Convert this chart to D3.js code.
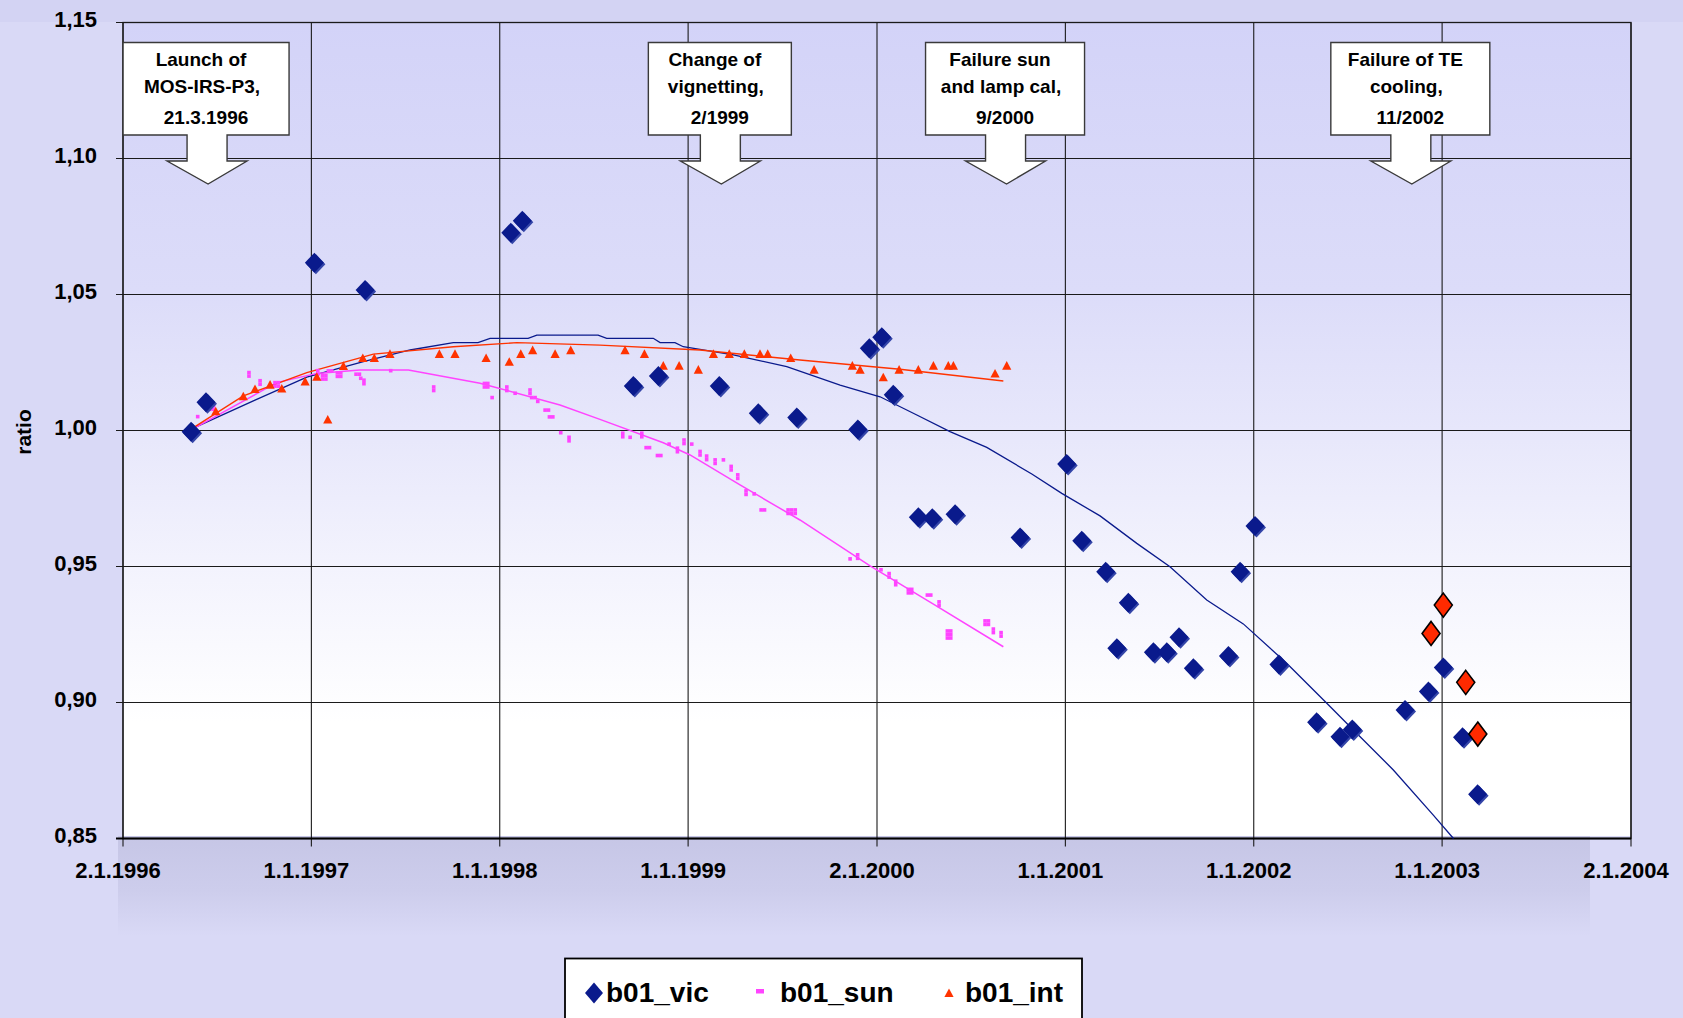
<!DOCTYPE html>
<html>
<head>
<meta charset="utf-8">
<script src="https://cdn.jsdelivr.net/npm/d3@7/dist/d3.min.js"></script>
<style>
  html, body { margin: 0; padding: 0; background: #d9d9f6; }
  svg { display: block; font-family: Arial, "Liberation Sans", sans-serif; }
</style>
</head>
<body>
<svg id="chart" width="1683" height="1018"></svg>
<script>
// --- DATA ---
const xTickLabels = ["2.1.1996", "1.1.1997", "1.1.1998", "1.1.1999", "2.1.2000", "1.1.2001", "1.1.2002", "1.1.2003", "2.1.2004"];
const yTicks = [0.85, 0.90, 0.95, 1.00, 1.05, 1.10, 1.15];

// b01_vic measurements (decimal year, ratio)
const vicYears = [1996.364, 1996.443, 1997.018, 1997.287, 1998.060, 1998.121, 1998.710, 1998.843, 1999.166, 1999.373,
  1999.577, 1999.901, 1999.962, 2000.028, 2000.089, 2000.222, 2000.296, 2000.417, 2000.762, 2001.009,
  2001.089, 2001.216, 2001.275, 2001.336, 2001.469, 2001.540, 2001.605, 2001.681, 2001.867, 2001.929,
  2002.008, 2002.135, 2002.335, 2002.459, 2002.524, 2002.804, 2002.928, 2003.007, 2003.109, 2003.189];
const vicValues = [0.9995, 1.0104, 1.0617, 1.0517, 1.0727, 1.0771, 1.0164, 1.0200, 1.0164, 1.0063,
  1.0048, 1.0004, 1.0302, 1.0343, 1.0131, 0.9681, 0.9677, 0.9692, 0.9607, 0.9877,
  0.9595, 0.9481, 0.9199, 0.9367, 0.9185, 0.9185, 0.9240, 0.9126, 0.9171, 0.9481,
  0.9649, 0.9140, 0.8927, 0.8874, 0.8901, 0.8972, 0.9040, 0.9129, 0.8872, 0.8663];

// b01_vic after TE cooling failure (red diamonds)
const vicLateYears = [2002.942, 2003.007, 2003.126, 2003.190];
const vicLateValues = [0.9254, 0.9358, 0.9074, 0.8884];

// b01_vic trend
const vicFitYears = [1996.364, 1996.703, 1996.978, 1997.278, 1997.526, 1997.755, 1997.886, 1997.950, 1998.152, 1998.198,
  1998.523, 1998.569, 1998.816, 1998.852, 1998.931, 1998.975, 1999.241, 1999.524, 1999.807, 2000.019,
  2000.214, 2000.390, 2000.585, 2000.824, 2000.983, 2001.186, 2001.381, 2001.557, 2001.752, 2001.946,
  2002.176, 2002.389, 2002.530, 2002.742, 2002.954, 2003.061];
const vicFitValues = [1.0005, 1.0112, 1.0196, 1.0253, 1.0296, 1.0323, 1.0323, 1.0339, 1.0339, 1.0351,
  1.0351, 1.0339, 1.0339, 1.0323, 1.0323, 1.0308, 1.0278, 1.0235, 1.0167, 1.0124,
  1.0057, 0.9996, 0.9938, 0.9840, 0.9769, 0.9686, 0.9585, 0.9499, 0.9377, 0.9289,
  0.9144, 0.8997, 0.8899, 0.8752, 0.8586, 0.8500];

// b01_sun measurements
const sunYears = [1996.399,
  1996.464, 1996.483, 1996.464, 1996.483,
  1996.671, 1996.671, 1996.730, 1996.730,
  1996.809, 1996.827, 1996.809, 1996.827,
  1997.036, 1997.036,
  1997.061, 1997.079, 1997.061, 1997.079,
  1997.092, 1997.110,
  1997.140, 1997.158, 1997.140, 1997.158,
  1997.239, 1997.257, 1997.264, 1997.281, 1997.281,
  1997.423, 1997.651, 1997.651,
  1997.920, 1997.938, 1997.920, 1997.938,
  1997.961, 1998.039, 1998.039, 1998.083, 1998.162, 1998.162,
  1998.171, 1998.189, 1998.203, 1998.242, 1998.260, 1998.265, 1998.283,
  1998.325, 1998.369, 1998.369, 1998.654, 1998.654, 1998.693,
  1998.755, 1998.755, 1998.778, 1998.796, 1998.838, 1998.856,
  1998.900, 1998.944, 1998.944, 1998.979, 1998.979, 1999.020,
  1999.064, 1999.064, 1999.099, 1999.099, 1999.144, 1999.144, 1999.188,
  1999.229, 1999.229, 1999.264, 1999.264, 1999.308, 1999.308, 1999.351,
  1999.388, 1999.406,
  1999.531, 1999.550, 1999.569, 1999.531, 1999.550, 1999.569,
  1999.860, 1999.900, 1999.900, 2000.024, 2000.067, 2000.067, 2000.102, 2000.102,
  2000.169, 2000.187, 2000.169, 2000.187,
  2000.270, 2000.288, 2000.332, 2000.332,
  2000.376, 2000.394, 2000.376, 2000.394, 2000.376, 2000.394,
  2000.576, 2000.594, 2000.576, 2000.594,
  2000.620, 2000.620, 2000.661, 2000.661];
const sunValues = [1.0051,
  1.0091, 1.0091, 1.0078, 1.0078,
  1.0213, 1.0200, 1.0183, 1.0170,
  1.0176, 1.0176, 1.0163, 1.0163,
  1.0220, 1.0207,
  1.0202, 1.0202, 1.0189, 1.0189,
  1.0219, 1.0219,
  1.0212, 1.0212, 1.0199, 1.0199,
  1.0207, 1.0207, 1.0192, 1.0185, 1.0172,
  1.0220, 1.0160, 1.0147,
  1.0173, 1.0173, 1.0160, 1.0160,
  1.0121, 1.0160, 1.0147, 1.0137, 1.0149, 1.0136,
  1.0121, 1.0121, 1.0107, 1.0075, 1.0075, 1.0050, 1.0050,
  0.9992, 0.9975, 0.9962, 0.9990, 0.9977, 0.9975,
  0.9990, 0.9977, 0.9937, 0.9937, 0.9908, 0.9908,
  0.9950, 0.9935, 0.9922, 0.9965, 0.9952, 0.9950,
  0.9923, 0.9910, 0.9906, 0.9893, 0.9892, 0.9879, 0.9892,
  0.9868, 0.9855, 0.9837, 0.9824, 0.9778, 0.9765, 0.9767,
  0.9708, 0.9708,
  0.9708, 0.9708, 0.9708, 0.9695, 0.9695, 0.9695,
  0.9528, 0.9543, 0.9530, 0.9488, 0.9474, 0.9461, 0.9446, 0.9433,
  0.9416, 0.9416, 0.9403, 0.9403,
  0.9395, 0.9395, 0.9370, 0.9357,
  0.9263, 0.9263, 0.9250, 0.9250, 0.9237, 0.9237,
  0.9300, 0.9300, 0.9287, 0.9287,
  0.9270, 0.9257, 0.9257, 0.9244];

// b01_sun trend
const sunFitYears = [1996.364, 1996.818, 1997.031, 1997.260, 1997.517, 1997.897, 1998.321, 1998.533, 1998.869, 1999.011,
  1999.276, 1999.594, 1999.966, 2000.302, 2000.673];
const sunFitValues = [1.0002, 1.0176, 1.0210, 1.0222, 1.0222, 1.0174, 1.0094, 1.0041, 0.9955, 0.9910,
  0.9800, 0.9671, 0.9502, 0.9362, 0.9205];

// b01_int measurements
const intYears = [1996.367, 1996.495, 1996.641, 1996.703, 1996.783, 1996.845, 1996.969, 1997.031, 1997.089, 1997.172,
  1997.275, 1997.336, 1997.419, 1997.681, 1997.764, 1997.929, 1998.052, 1998.113, 1998.176, 1998.295,
  1998.378, 1998.666, 1998.769, 1998.869, 1998.953, 1999.055, 1999.135, 1999.219, 1999.299, 1999.382,
  1999.423, 1999.545, 1999.669, 1999.872, 1999.913, 2000.036, 2000.120, 2000.222, 2000.302, 2000.381,
  2000.408, 2000.629, 2000.691];
const intValues = [0.9996, 1.0069, 1.0124, 1.0151, 1.0167, 1.0153, 1.0179, 1.0196, 1.0039, 1.0236,
  1.0265, 1.0265, 1.0280, 1.0280, 1.0280, 1.0265, 1.0251, 1.0280, 1.0294, 1.0280,
  1.0294, 1.0294, 1.0280, 1.0237, 1.0237, 1.0222, 1.0280, 1.0280, 1.0280, 1.0280,
  1.0280, 1.0265, 1.0222, 1.0237, 1.0222, 1.0194, 1.0222, 1.0222, 1.0237, 1.0237,
  1.0237, 1.0208, 1.0237];

// b01_int trend
const intFitYears = [1996.364, 1996.641, 1996.978, 1997.331, 1997.755, 1998.092, 1998.533, 1999.064, 1999.594, 2000.125, 2000.673];
const intFitValues = [1.0005, 1.0127, 1.0213, 1.0281, 1.0308, 1.0323, 1.0314, 1.0296, 1.0259, 1.0225, 1.0182];

// events marked with callouts
const eventYears = [1996.454, 1999.177, 2000.690, 2002.840];
const eventLines = [
  ["Launch of", "MOS-IRS-P3,", "21.3.1996"],
  ["Change of", "vignetting,", "2/1999"],
  ["Failure sun", "and lamp cal,", "9/2000"],
  ["Failure of TE", "cooling,", "11/2002"]
];

const legendNames = ["b01_vic", "b01_sun", "b01_int"];

// --- LAYOUT ---
const PLOT = { left: 123, right: 1631, top: 22.5, bottom: 838.5 };
const BOX_EDGES = [[-85, 81], [-73, 70], [-81, 78], [-81, 78]];
const BOX_TOP = 42.5, BOX_BOTTOM = 135, HEAD_BASE = 161, HEAD_TIP = 184;
const LINE_BASELINES = [65.5, 93, 123.5];
const LINE_DX = [-5, -4, 0];

const COL_VIC = "#0a1a8c";
const COL_SUN = "#ff44ff";
const COL_INT = "#ff3300";

// --- HELPERS ---
const DAY = 864e5;
const yearBase = new Date(1996, 0, 1).getTime();
function yearToDate(yr) { return new Date(yearBase + (yr - 1996) * 365.25 * DAY); }
function parseLabel(s) {
  const [d, m, y] = s.split(".").map(Number);
  return new Date(y, m - 1, d);
}
function pairs(xs, ys) { return xs.map((v, i) => ({ date: yearToDate(v), value: ys[i] })); }
const commaFmt = v => d3.format(".2f")(v).replace(".", ",");

// --- SCALES ---
const tickDates = xTickLabels.map(parseLabel);
const x = d3.scaleTime()
  .domain([tickDates[0], tickDates[tickDates.length - 1]])
  .range([PLOT.left, PLOT.right]);
const y = d3.scaleLinear().domain([0.85, 1.15]).range([PLOT.bottom, PLOT.top]);

const svg = d3.select("#chart");
const defs = svg.append("defs");

const plotGrad = defs.append("linearGradient").attr("id", "plot-bg")
  .attr("x1", 0).attr("y1", 0).attr("x2", 0).attr("y2", 1);
[[0, "#d3d3f8"], [0.33, "#dcdcf9"], [0.5, "#e7e7fb"], [0.67, "#f3f3fd"], [0.86, "#ffffff"], [1, "#ffffff"]]
  .forEach(([o, c]) => plotGrad.append("stop").attr("offset", o).attr("stop-color", c));

const bandGrad = defs.append("linearGradient").attr("id", "band-bg")
  .attr("x1", 0).attr("y1", 0).attr("x2", 0).attr("y2", 1);
[[0, "#c6c6e6"], [0.55, "#cdcdec"], [1, "#d9d9f6"]]
  .forEach(([o, c]) => bandGrad.append("stop").attr("offset", o).attr("stop-color", c));

// page background
svg.append("rect").attr("width", 1683).attr("height", 1018).attr("fill", "#d9d9f6");
svg.append("rect").attr("x", 0).attr("y", 0).attr("width", 1683).attr("height", 22)
  .attr("fill", "#d3d3f3");
svg.append("rect").attr("x", 118).attr("y", 836).attr("width", 1472).attr("height", 100)
  .attr("fill", "url(#band-bg)");

// plot area
svg.append("rect")
  .attr("x", PLOT.left).attr("y", PLOT.top)
  .attr("width", PLOT.right - PLOT.left).attr("height", 836 - PLOT.top)
  .attr("fill", "url(#plot-bg)");

// --- GRID ---
const grid = svg.append("g").attr("stroke", "#1a1a1a").attr("stroke-width", 1.1);
grid.selectAll(".hg").data(yTicks).enter().append("line")
  .attr("x1", PLOT.left - 7).attr("x2", PLOT.right)
  .attr("y1", d => y(d)).attr("y2", d => y(d));
grid.selectAll(".vg").data(tickDates).enter().append("line")
  .attr("x1", d => x(d)).attr("x2", d => x(d))
  .attr("y1", PLOT.top).attr("y2", PLOT.bottom + 8);

// frame and axis lines
svg.append("rect")
  .attr("x", PLOT.left).attr("y", PLOT.top)
  .attr("width", PLOT.right - PLOT.left).attr("height", PLOT.bottom - PLOT.top)
  .attr("fill", "none").attr("stroke", "#1a1a1a").attr("stroke-width", 1.3);
svg.append("line").attr("x1", PLOT.left - 7).attr("x2", PLOT.right)
  .attr("y1", PLOT.bottom).attr("y2", PLOT.bottom)
  .attr("stroke", "#000").attr("stroke-width", 1.8);

// --- AXIS LABELS ---
svg.append("g").selectAll("text").data(yTicks).enter().append("text")
  .attr("x", 97).attr("y", d => y(d) + 4.5)
  .attr("text-anchor", "end")
  .style("font-size", "22px").style("font-weight", "bold")
  .text(commaFmt);

svg.append("g").selectAll("text").data(tickDates).enter().append("text")
  .attr("x", d => x(d) - 5).attr("y", 878)
  .attr("text-anchor", "middle")
  .style("font-size", "22px").style("font-weight", "bold")
  .text((d, i) => xTickLabels[i]);

svg.append("text")
  .attr("transform", "translate(31,432) rotate(-90)")
  .attr("text-anchor", "middle")
  .style("font-size", "21px").style("font-weight", "bold")
  .text("ratio");

// --- CALLOUTS ---
eventYears.forEach((yr, i) => {
  const cx = x(yearToDate(yr));
  const [b0, b1] = BOX_EDGES[i];
  const L = cx + b0, R = cx + b1;
  const path = `M${L},${BOX_TOP} H${R} V${BOX_BOTTOM} H${cx + 19} V${HEAD_BASE} H${cx + 39} ` +
    `L${cx},${HEAD_TIP} L${cx - 41},${HEAD_BASE} H${cx - 21} V${BOX_BOTTOM} H${L} Z`;
  svg.append("path").attr("d", path)
    .attr("fill", "#ffffff").attr("stroke", "#3a3a3a").attr("stroke-width", 1.4);
  const mid = (L + R) / 2;
  svg.append("g").selectAll("text").data(eventLines[i]).enter().append("text")
    .attr("x", (d, j) => mid + LINE_DX[j]).attr("y", (d, j) => LINE_BASELINES[j])
    .attr("text-anchor", "middle")
    .style("font-size", "19px").style("font-weight", "bold")
    .text(d => d);
});

// --- SERIES ---
const line = d3.line().x(d => x(d.date)).y(d => y(d.value));
const g = svg.append("g");

g.append("path").datum(pairs(vicFitYears, vicFitValues))
  .attr("d", line).attr("fill", "none").attr("stroke", COL_VIC).attr("stroke-width", 1.3);
g.append("path").datum(pairs(sunFitYears, sunFitValues))
  .attr("d", line).attr("fill", "none").attr("stroke", COL_SUN).attr("stroke-width", 1.5);
g.append("path").datum(pairs(intFitYears, intFitValues))
  .attr("d", line).attr("fill", "none").attr("stroke", COL_INT).attr("stroke-width", 1.4);

const diamond = (w, h) => `M0,${-h} L${w},0 L0,${h} L${-w},0 Z`;
const triangle = "M0,-5 L4.6,3.6 L-4.6,3.6 Z";

// sun markers
g.selectAll(".sun").data(pairs(sunYears, sunValues)).enter().append("rect")
  .attr("x", d => x(d.date) - 1.8).attr("y", d => y(d.value) - 1.8)
  .attr("width", 3.6).attr("height", 3.6)
  .attr("fill", COL_SUN);

// int markers
g.selectAll(".int").data(pairs(intYears, intValues)).enter().append("path")
  .attr("transform", d => `translate(${x(d.date)},${y(d.value)})`)
  .attr("d", triangle).attr("fill", COL_INT);

// vic markers
const vicPts = pairs(vicYears, vicValues);
g.selectAll(".vic-sh").data(vicPts).enter().append("path")
  .attr("transform", d => `translate(${x(d.date) + 1.5},${y(d.value) + 1.5})`)
  .attr("d", diamond(9.5, 10)).attr("fill", "#3445a8");
g.selectAll(".vic").data(vicPts).enter().append("path")
  .attr("transform", d => `translate(${x(d.date)},${y(d.value)})`)
  .attr("d", diamond(9.5, 10)).attr("fill", COL_VIC);

g.selectAll(".late").data(pairs(vicLateYears, vicLateValues)).enter().append("path")
  .attr("transform", d => `translate(${x(d.date)},${y(d.value)})`)
  .attr("d", diamond(9, 12)).attr("fill", "#ff2a00")
  .attr("stroke", "#000").attr("stroke-width", 1.6);

// --- LEGEND ---
const lg = svg.append("g");
lg.append("rect").attr("x", 565).attr("y", 958.5).attr("width", 517).attr("height", 80)
  .attr("fill", "#ffffff").attr("stroke", "#000").attr("stroke-width", 1.8);
lg.append("path").attr("transform", "translate(594,993)").attr("d", diamond(9, 10.5)).attr("fill", COL_VIC);
lg.append("rect").attr("x", 756).attr("y", 989).attr("width", 8).attr("height", 4.5).attr("fill", COL_SUN);
lg.append("path").attr("transform", "translate(949,993.5)").attr("d", triangle).attr("fill", COL_INT);
lg.selectAll("text").data(legendNames).enter().append("text")
  .attr("x", (d, i) => [606, 780, 965][i]).attr("y", 1002)
  .style("font-size", "28px").style("font-weight", "bold")
  .text(d => d);
</script>
</body>
</html>
